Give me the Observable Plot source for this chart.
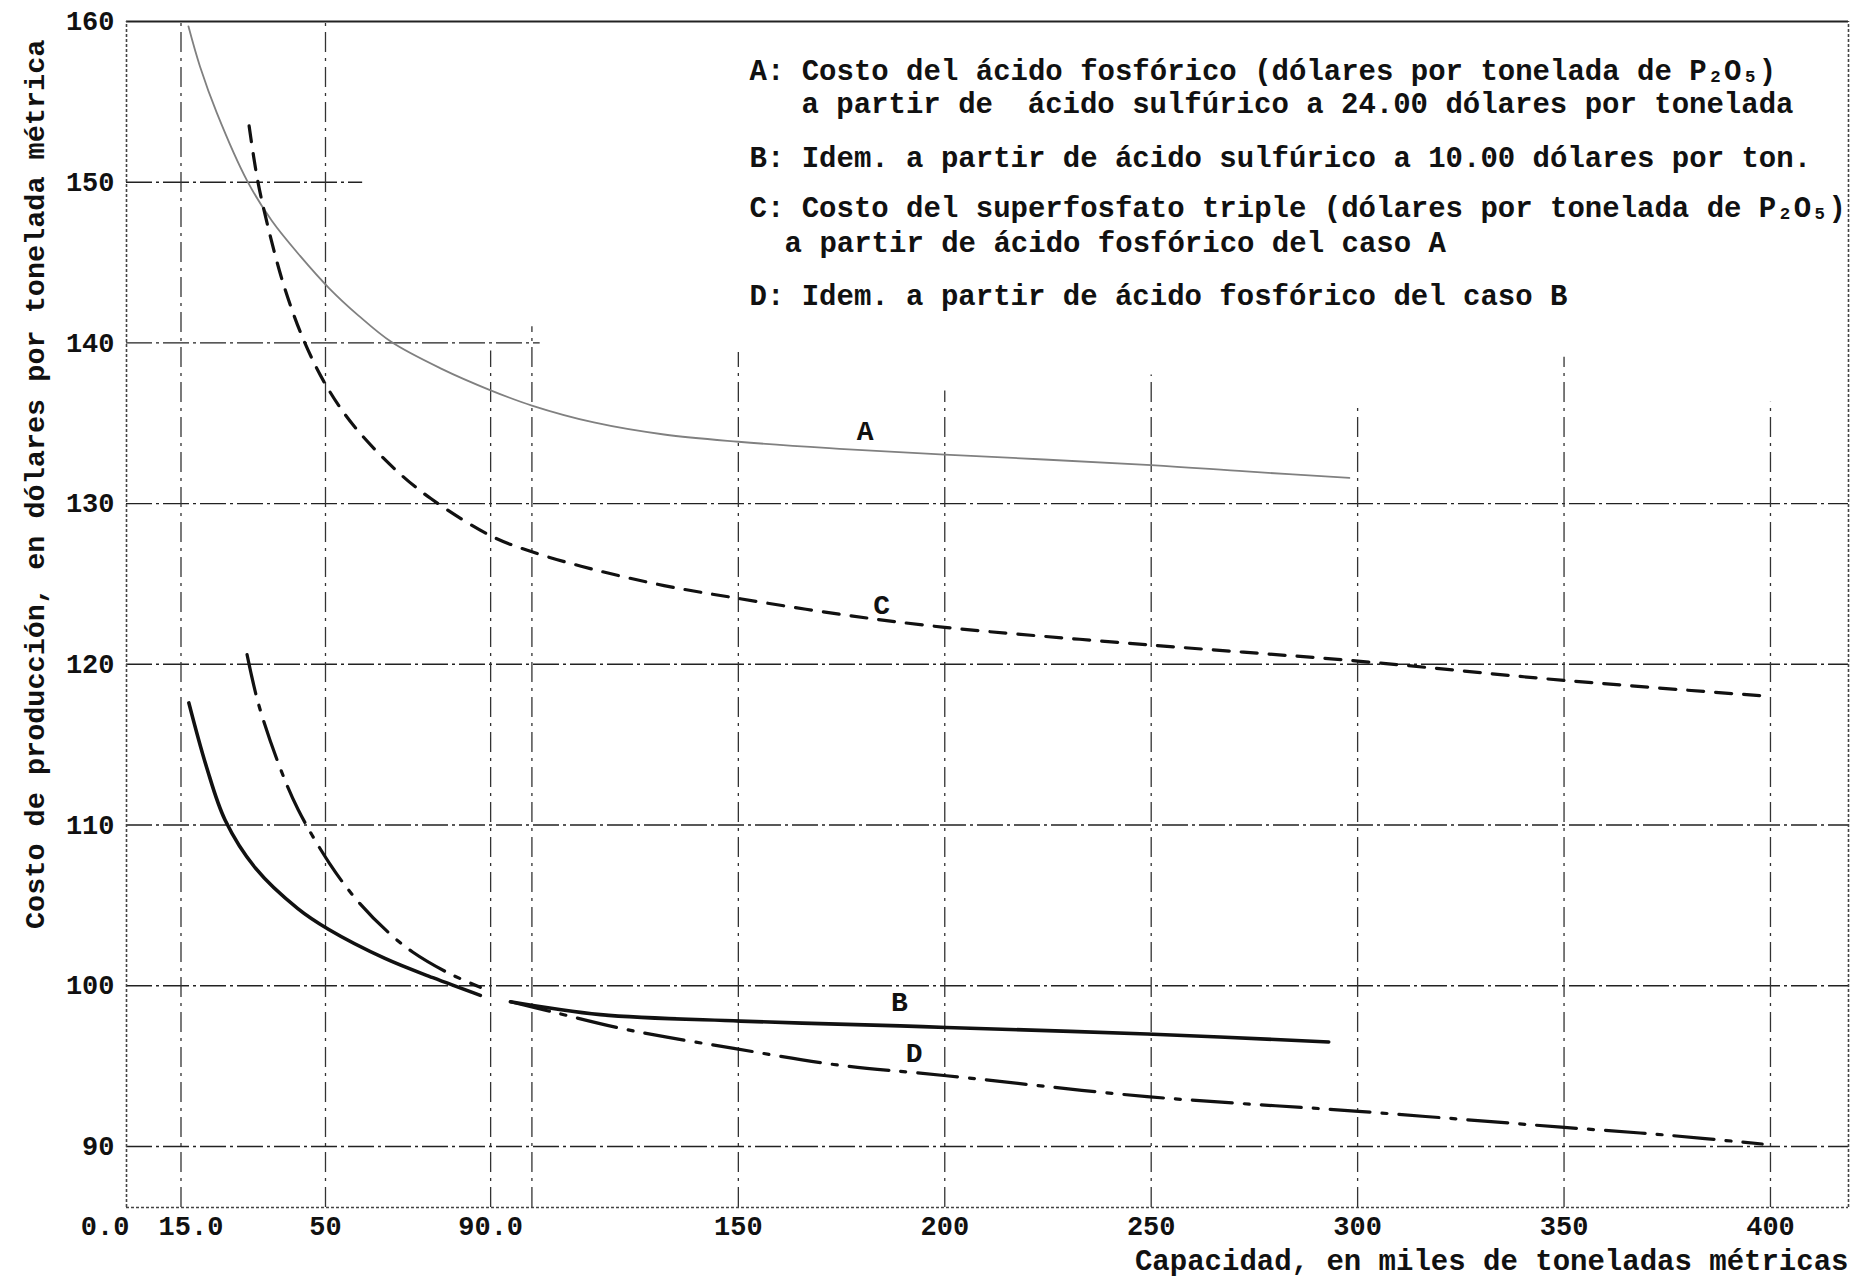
<!DOCTYPE html>
<html><head><meta charset="utf-8">
<script src="https://cdn.jsdelivr.net/npm/d3@7"></script>
<script src="https://cdn.jsdelivr.net/npm/@observablehq/plot@0.6"></script>
<style>body{margin:0;background:#fff}</style>
</head><body><div id="chart"></div>
<script>
// ---- data ----
const xTicks = [0, 15, 50, 90, 150, 200, 250, 300, 350, 400];
const xTickLabels = ["0.0", "15.0", "50", "90.0", "150", "200", "250", "300", "350", "400"];
const yTicks = [90, 100, 110, 120, 130, 140, 150, 160];

const gridXFull = [15, 50];
const gridXPartial = [90, 100, 150, 200, 250, 300, 350, 400];
const gridXPartialTop = [139.5, 141, 139.4, 137, 138, 136, 139.1, 136.3];
const gridYFull = [90, 100, 110, 120, 130];
const gridYPartial = [140, 150];
const gridYPartialEnd = [102, 59];

const aX = [16.8, 19.6, 23.7, 31, 37, 43.9, 50.9, 58, 66, 78, 90, 100, 115, 132, 150, 172, 200, 250, 273, 298];
const aY = [159.7, 157.2, 154.3, 150.1, 147.6, 145.4, 143.4, 141.7, 140.05, 138.4, 137.05, 136.1, 135.05, 134.3, 133.85, 133.45, 133.05, 132.4, 132.0, 131.6];

const bLeftX = [16.9, 21.2, 25.7, 33.1, 43.3, 50.8, 64.4, 76.0, 87.5];
const bLeftY = [117.6, 113.6, 110.3, 107.3, 104.8, 103.5, 101.7, 100.5, 99.4];
const bRightX = [94.8, 116.6, 150.5, 189.2, 200.4, 249, 293];
const bRightY = [99.0, 98.2, 97.8, 97.5, 97.4, 97.0, 96.5];

const cX = [31.5, 33.5, 36, 40, 45, 50.5, 57, 67, 75.6, 90, 100, 115, 132, 150, 175, 200, 250, 300, 350, 400];
const cY = [153.5, 150.2, 147.3, 143.5, 140.0, 137.2, 134.8, 132.1, 130.3, 128.0, 127.0, 125.9, 124.9, 124.1, 123.1, 122.3, 121.2, 120.2, 119.0, 118.0];

const dLeftX = [31.0, 33.7, 38.5, 43.3, 51, 57.7, 65.3, 71.1, 79.7, 87.5];
const dLeftY = [120.6, 117.6, 113.9, 111.0, 107.6, 105.3, 103.3, 102.1, 100.8, 99.9];
const dRightX = [94.8, 104.5, 120.6, 132.7, 148.9, 173.1, 200.4, 249, 299.3, 349.3, 375, 398];
const dRightY = [99.0, 98.4, 97.4, 96.8, 96.1, 95.1, 94.4, 93.1, 92.2, 91.2, 90.7, 90.15];

const curveLabels = ["A", "B", "C", "D"];
const curveLabelX = [180.7, 189, 184.7, 192.6];
const curveLabelY = [134.5, 99.0, 123.7, 95.8];

const legendLines = [
  "A: Costo del ácido fosfórico (dólares por tonelada de P₂O₅)",
  "a partir de  ácido sulfúrico a 24.00 dólares por tonelada",
  "B: Idem. a partir de ácido sulfúrico a 10.00 dólares por ton.",
  "C: Costo del superfosfato triple (dólares por tonelada de P₂O₅)",
  "a partir de ácido fosfórico del caso A",
  "D: Idem. a partir de ácido fosfórico del caso B"
];
const xTitle = "Capacidad, en miles de toneladas métricas";
const yTitle = "Costo de producción, en dólares por tonelada métrica";

// ---- layout ----
const X0 = 1.8, X1 = 418.9, Y0 = 86.2, Y1 = 160;
const legendX = [152.7, 165.3, 152.7, 152.7, 161.2, 152.7];
const legendY = [156.95, 154.9, 151.55, 148.4, 146.25, 142.95];

const zip = (xs, ys, extra = {}) => xs.map((x, i) => ({x, y: ys[i], ...extra}));
const bData = [...zip(bLeftX, bLeftY, {s: "B1"}), ...zip(bRightX, bRightY, {s: "B2"})];
const dData = [...zip(dLeftX, dLeftY, {s: "D1"}), ...zip(dRightX, dRightY, {s: "D2"})];

const FONT = "'Liberation Mono', 'DejaVu Sans Mono', monospace";
const gridStyle = {stroke: "#222", strokeWidth: 1.4, strokeDasharray: "26,4,3,4"};
const vgridStyle = {stroke: "#333", strokeWidth: 1.3, strokeDasharray: "20,6,3,6"};
const tickFont = {fontSize: 27, fill: "#111"};

const chart = Plot.plot({
  width: 1861,
  height: 1279,
  marginLeft: 126,
  marginRight: 13,
  marginTop: 21,
  marginBottom: 72,
  x: {domain: [X0, X1], axis: null},
  y: {domain: [Y0, Y1], axis: null},
  style: {fontFamily: FONT, fontWeight: "bold", color: "#111", background: "#fff", overflow: "visible"},
  marks: [
    // grid
    Plot.ruleY(gridYFull, {...gridStyle, x1: X0, x2: X1}),
    Plot.ruleY(gridYPartial, {...gridStyle, y: d => d, x1: X0, x2: (d, i) => gridYPartialEnd[i]}),
    Plot.ruleX(gridXFull, {...vgridStyle, y1: Y0, y2: Y1}),
    Plot.ruleX(gridXPartial, {...vgridStyle, x: d => d, y1: Y0, y2: (d, i) => gridXPartialTop[i]}),
    // frame
    Plot.ruleY([Y1], {x1: X0, x2: X1, stroke: "#222", strokeWidth: 2}),
    Plot.ruleY([Y0], {x1: X0, x2: X1, stroke: "#444", strokeWidth: 1.6, strokeDasharray: "3,2"}),
    Plot.ruleX([X0, X1], {y1: Y0, y2: Y1, stroke: "#444", strokeWidth: 1.6, strokeDasharray: "3,2"}),
    // curves
    Plot.line(zip(aX, aY), {x: "x", y: "y", curve: "catmull-rom", stroke: "#808080", strokeWidth: 1.8}),
    Plot.line(zip(cX, cY), {x: "x", y: "y", curve: "catmull-rom", stroke: "#111", strokeWidth: 3.2, strokeDasharray: "16,12"}),
    Plot.line(bData, {x: "x", y: "y", z: "s", curve: "catmull-rom", stroke: "#111", strokeWidth: 3.6}),
    Plot.line(dData, {x: "x", y: "y", z: "s", curve: "catmull-rom", stroke: "#111", strokeWidth: 3.2, strokeDasharray: "40,12,5,12"}),
    // curve labels
    Plot.text(curveLabels, {x: (d, i) => curveLabelX[i], y: (d, i) => curveLabelY[i], text: d => d, fontSize: 28, fill: "#111"}),
    // legend
    Plot.text(legendLines, {x: (d, i) => legendX[i], y: (d, i) => legendY[i], text: d => d, textAnchor: "start", fontSize: 29, fill: "#111"}),
    // axes
    Plot.axisY(yTicks, {tickSize: 0, tickPadding: 12, label: null, ...tickFont}),
    Plot.axisX(xTicks.slice(2), {tickSize: 0, tickPadding: 8, label: null, ...tickFont,
      tickFormat: d => xTickLabels[xTicks.indexOf(d)]}),
    Plot.text(xTicks.slice(0, 1), {x: d => d, y: Y0, text: d => xTickLabels[xTicks.indexOf(d)], lineAnchor: "top", dy: 8, dx: -14, ...tickFont}),
    Plot.text(xTicks.slice(1, 2), {x: d => d, y: Y0, text: d => xTickLabels[xTicks.indexOf(d)], lineAnchor: "top", dy: 8, dx: 10, ...tickFont}),
    Plot.text([xTitle], {frameAnchor: "bottom-right", dy: 62, textAnchor: "end", fontSize: 29, fill: "#111"}),
    Plot.text([yTitle], {x: -20.5, y: 131.2, rotate: -90, fontSize: 28.5, fill: "#111"})
  ]
});
document.getElementById("chart").appendChild(chart);
</script>
</body></html>
